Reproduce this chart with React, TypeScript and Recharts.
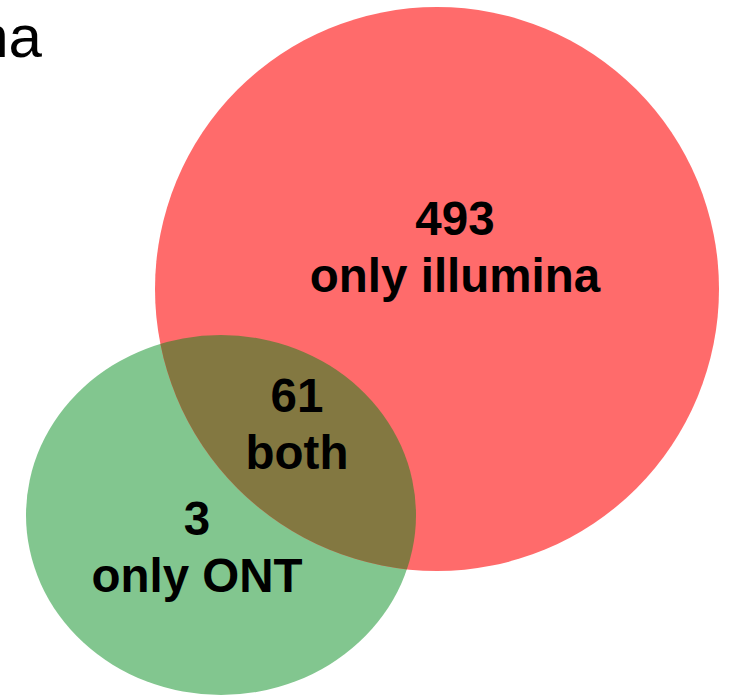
import React from 'react';
import { ScatterChart, Scatter, XAxis, YAxis } from 'recharts';

const CHART_W = 730;
const CHART_H = 696;

// Sets (layout in chart units; 1 unit = 1 px)
const setNames = ['illumina', 'ONT'];
const setCenterX = [437, 221];
const setCenterY = [289, 515];
const setRadiusX = [282, 195];
const setRadiusY = [282, 180];
const setColors = ['#FF6B6B', '#82C68F'];
const overlapColor = '#837841';

// Regions
const regionNames = ['only illumina', 'both', 'only ONT'];
const regionCounts = [493, 61, 3];
const regionLabelX = [455, 297, 197];
const regionLabelY = [235, 412, 535];

// Title (partly cut off in the reference)
const titleText = ['illumina'];
const titleX = [42];
const titleY = [57];

const FONT = '"Liberation Sans", Arial, Helvetica, sans-serif';

const illuminaData = [{ x: setCenterX[0], y: setCenterY[0], rx: setRadiusX[0], ry: setRadiusY[0], name: setNames[0] }];
const ontData = [{ x: setCenterX[1], y: setCenterY[1], rx: setRadiusX[1], ry: setRadiusY[1], name: setNames[1] }];
const labelData = regionNames.map((n, i) => ({ x: regionLabelX[i], y: regionLabelY[i], name: n, count: regionCounts[i] }));
const titleData = titleText.map((t, i) => ({ x: titleX[i], y: titleY[i], text: t }));

// chart units -> pixels (axes span the full plot area)
const KX = 1;
const KY = 1;

const IlluminaShape = (props: any) => {
  const { cx, cy, payload } = props;
  const rx = payload.rx * KX;
  const ry = payload.ry * KY;
  return (
    <g>
      <defs>
        <clipPath id="clip-illumina">
          <ellipse cx={cx} cy={cy} rx={rx} ry={ry} />
        </clipPath>
      </defs>
      <ellipse cx={cx} cy={cy} rx={rx} ry={ry} fill={setColors[0]} />
    </g>
  );
};

const OntShape = (props: any) => {
  const { cx, cy, payload } = props;
  return <ellipse cx={cx} cy={cy} rx={payload.rx * KX} ry={payload.ry * KY} fill={setColors[1]} />;
};

const OverlapShape = (props: any) => {
  const { cx, cy, payload } = props;
  return (
    <ellipse
      cx={cx}
      cy={cy}
      rx={payload.rx * KX}
      ry={payload.ry * KY}
      fill={overlapColor}
      clipPath="url(#clip-illumina)"
    />
  );
};

const LabelShape = (props: any) => {
  const { cx, cy, payload } = props;
  return (
    <g>
      <text x={cx} y={cy} textAnchor="middle" fontFamily={FONT} fontWeight="bold" fontSize={47.5} fill="#000">
        {payload.count}
      </text>
      <text x={cx} y={cy + 57} textAnchor="middle" fontFamily={FONT} fontWeight="bold" fontSize={47.5} fill="#000">
        {payload.name}
      </text>
    </g>
  );
};

const TitleShape = (props: any) => {
  const { cx, cy, payload } = props;
  return (
    <text x={cx} y={cy} textAnchor="end" fontFamily={FONT} fontSize={60} fill="#000">
      {payload.text}
    </text>
  );
};

export default function App() {
  return (
    <div style={{ position: 'absolute', left: 0, top: 0, width: CHART_W, height: CHART_H, background: '#fff' }}>
      <ScatterChart width={CHART_W} height={CHART_H} margin={{ top: 0, right: 0, bottom: 0, left: 0 }}>
        <XAxis type="number" dataKey="x" domain={[0, CHART_W]} hide allowDataOverflow />
        <YAxis type="number" dataKey="y" domain={[0, CHART_H]} reversed hide allowDataOverflow />
        <Scatter data={ontData} shape={OntShape} isAnimationActive={false} />
        <Scatter data={illuminaData} shape={IlluminaShape} isAnimationActive={false} />
        <Scatter data={ontData} shape={OverlapShape} isAnimationActive={false} />
        <Scatter data={labelData} shape={LabelShape} isAnimationActive={false} />
        <Scatter data={titleData} shape={TitleShape} isAnimationActive={false} />
      </ScatterChart>
    </div>
  );
}
